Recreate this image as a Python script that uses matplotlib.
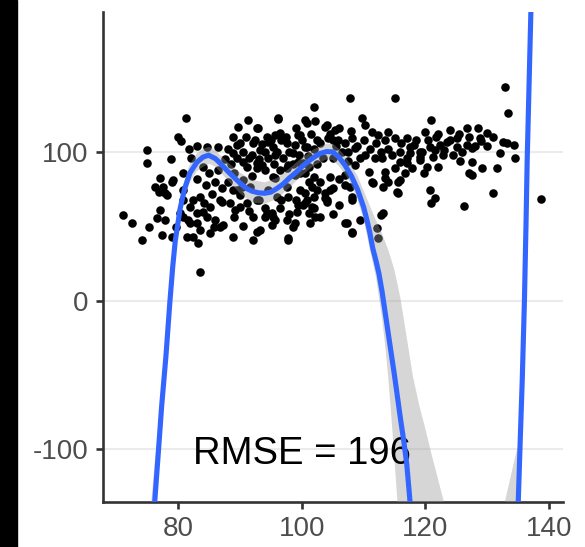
import numpy as np
import matplotlib.pyplot as plt
from matplotlib.patches import Rectangle

plt.rcParams['font.family'] = ['Liberation Sans', 'DejaVu Sans']
plt.rcParams['axes.unicode_minus'] = False

pt_x = [
    74.9, 74.9, 78.8, 81.3, 80.0, 80.4, 81.8, 84.6, 86.5, 77.0,
    79.2, 80.8, 76.2, 77.6, 78.9, 76.8, 78.1, 80.8, 71.0, 72.5,
    75.3, 74.2, 77.0, 76.5, 77.3, 78.9, 79.7, 80.3, 81.6, 83.0,
    82.4, 83.2, 83.5, 80.8, 81.9, 83.5, 84.0, 85.1, 85.9, 86.8,
    87.3, 88.9, 89.2, 90.0, 91.1, 92.1, 92.7, 92.1, 94.3, 95.1,
    95.4, 97.6, 97.8, 96.5, 99.2, 98.6, 100.2, 101.9, 102.9, 101.3,
    77.8, 82.4, 84.1, 83.0, 84.6, 81.9, 83.5, 85.1, 81.4, 80.8,
    88.4, 90.0, 86.8, 89.5, 91.6, 92.7, 77.8, 85.7, 95.1, 93.2,
    91.3, 89.7, 92.7, 88.9, 89.5, 92.4, 91.9, 92.7, 90.5, 96.2,
    101.9, 100.8, 104.0, 90.0, 88.9, 92.1, 93.2, 94.3, 95.4, 96.5,
    97.6, 98.6, 99.7, 100.8, 102.4, 105.1, 91.1, 92.7, 90.5, 95.4,
    97.6, 99.7, 101.9, 100.2, 104.6, 88.9, 90.3, 97.6, 99.7, 102.4,
    104.6, 100.8, 104.0, 107.8, 115.1, 96.1, 100.5, 102.1, 109.7, 110.2,
    95.7, 96.7, 94.6, 99.4, 98.9, 100.5, 103.8, 105.4, 104.3, 105.9,
    108.1, 108.6, 107.5, 111.3, 112.4, 114.0, 115.1, 110.2, 111.8, 112.9,
    114.6, 115.9, 108.6, 110.8, 113.5, 115.1, 107.0, 111.3, 113.5, 115.6,
    94.0, 95.7, 93.5, 97.8, 99.4, 101.1, 95.7, 98.9, 101.1, 92.9,
    132.9, 133.4, 120.9, 119.95, 121.8, 124.0, 125.1, 126.7, 128.6, 130.0,
    128.9, 117.0, 118.1, 115.9, 119.1, 120.8, 122.4, 123.5, 125.1, 126.7,
    127.5, 117.0, 119.1, 121.3, 122.9, 120.2, 116.7, 125.6, 127.5, 127.5,
    129.1, 131.6, 132.1, 133.2, 134.3, 134.5, 132.6, 138.8, 130.9, 126.3,
    120.8, 121.6, 121.0, 127.0, 111.6, 113.2, 114.0, 115.4, 115.9, 107.8,
    108.1, 107.3, 108.1, 109.4, 112.9, 112.1, 112.4, 117.5, 119.1, 117.0,
    107.0, 108.1, 115.6, 113.2, 107.0, 108.1, 97.8, 95.7, 98.9, 101.1,
    102.1, 100.5, 101.6, 103.8, 103.8, 96.7, 97.8, 99.4, 100.5, 101.6,
    94.6, 93.0, 94.0,
    86.5, 87.5, 88.0, 88.5, 89.0, 89.5, 90.5, 91.0, 91.5, 92.0,
    93.0, 93.5, 94.0, 94.5, 95.0, 95.5, 96.0, 96.5, 97.0, 97.5,
    98.0, 98.5, 99.0, 99.5, 100.0, 100.5, 101.0, 101.5, 102.0, 102.5,
    103.0, 103.5, 104.5, 105.0, 105.5, 106.0, 106.5, 107.0, 107.5, 108.0,
    109.0, 109.5, 110.0, 111.0, 112.0, 113.0, 113.5, 114.0, 116.0, 117.5,
    118.5, 119.5, 120.5, 121.5, 122.0, 123.0, 124.0, 124.5, 125.5, 126.0,
    127.0, 128.0, 129.0, 130.0, 131.0, 117.8, 119.8, 122.0, 82.0, 83.0,
    84.0, 85.0, 86.0, 87.0, 85.5, 83.0, 84.5, 88.0, 87.0, 89.0,
    90.5, 91.5, 94.0, 96.0, 98.0, 99.0, 102.0, 103.0, 105.0, 106.0,
    106.0, 105.0, 104.0,
]
pt_y = [
    101, 92.3, 95.2, 122.6, 110, 107, 102, 103.5, 103.5, 82.3,
    81, 85.6, 76.6, 76.6, 80, 73.3, 71, 74.4, 57.6, 52,
    49.7, 40.8, 61, 55.4, 44.2, 43, 49.7, 58.7, 54.2, 52,
    43, 38.6, 19.5, 67.7, 63.2, 69.9, 59.8, 63.2, 54.2, 49.7,
    50.9, 43, 61, 71, 65.5, 56.5, 46.4, 40.8, 58.7, 50.9,
    56.5, 54.2, 41.9, 62.1, 59.8, 49.7, 64.3, 69.9, 56.5, 52,
    54.2, 67.7, 65.5, 58.7, 56.5, 52, 47.5, 45.3, 43, 56.5,
    65.5, 63.2, 67.7, 74.4, 76.6, 67.7, 72.2, 49.7, 58.7, 47.5,
    121.4, 117, 115.8, 110.2, 104.6, 108, 98, 89, 93.4, 121.9,
    130.4, 119.2, 118, 105.8, 99, 105.8, 101.3, 110.2, 103.5, 112.5,
    105.8, 99, 111.4, 103.5, 108, 108, 90, 92.3, 81.1, 83.3,
    89, 85.6, 83.3, 92.3, 83.3, 74.4, 76.6, 76.6, 74.4, 74.4,
    74.4, 67.7, 67.7, 136, 136, 122.6, 121.4, 120.8, 122.6, 118,
    111.4, 108, 106.9, 111.4, 104.6, 103.5, 117, 114.7, 109.1, 108,
    109.1, 102.4, 100.1, 113.6, 111.4, 113.6, 109.1, 97.9, 95.7, 100.1,
    97.9, 93.4, 91.2, 86.7, 86.7, 89, 84.5, 80, 82.3, 80,
    100.1, 97.9, 91.2, 91.2, 93.4, 90, 82.3, 84.5, 80, 115.8,
    143.8, 125.9, 121.4, 113.6, 110.2, 114.7, 109.1, 115.8, 115.8, 112.5,
    109.1, 109.1, 104.6, 100.1, 100.1, 103.5, 104.6, 106.9, 103.5, 104.6,
    102.4, 95.7, 94.6, 96.8, 97.9, 90, 85.6, 93.9, 93, 84.5,
    89, 89, 99, 105.8, 104.6, 96.1, 106.9, 68.3, 72.2, 63.8,
    74.4, 68.8, 65.5, 85.6, 78.9, 76.6, 80, 73.3, 81.1, 76.6,
    67.7, 52, 46.4, 54.2, 57.6, 48.7, 41.9, 99, 96.8, 92.3,
    77.8, 69.9, 72.2, 58.7, 52, 45.7, 40.8, 54.2, 52, 58.7,
    56.5, 65.5, 63.2, 72.2, 68.8, 67.7, 69.9, 64.3, 72.2, 76.6,
    74.4, 67.7, 56.5,
    88, 95, 102, 92, 86, 96, 100, 110, 96, 84,
    95, 105, 88, 96, 108, 92, 100, 88, 96, 110,
    100, 92, 116, 98, 108, 86, 97, 112, 102, 92,
    106, 96, 112, 96, 104, 116, 100, 106, 94, 114,
    104, 96, 108, 102, 106, 96, 108, 102, 106, 103,
    108, 100, 108, 101, 112, 101, 108, 98, 112, 100,
    110, 104, 107, 104, 110, 89, 86, 90, 96, 104,
    90, 86, 80, 76, 72, 82, 78, 80, 66, 56,
    50, 60, 62, 70, 58, 68, 62, 80, 76, 82,
    64, 58, 66,
]

# fitted polynomial curve, main piece and the right-hand branch
fit_x = [75.3, 75.7, 76.2, 76.8, 77.3, 78.0, 78.65, 79.1, 79.5, 80.3,
         81.0, 81.9, 83.0, 84.0, 84.9, 86.0, 87.0, 88.0,
         89.0, 90.0, 91.0, 92.0, 93.0, 94.0, 95.0, 96.0, 97.0, 98.0,
         99.0, 100.0, 101.0, 102.0, 103.0, 104.0, 105.0, 106.0, 107.0, 108.0,
         109.0, 110.0, 110.5, 111.0, 111.5, 112.0, 112.5, 113.0, 113.5, 114.0,
         114.5, 115.0, 115.5, 116.0, 116.5, 117.0, 117.5, 118.0, 118.3]
fit_y = [-186, -163, -134, -100, -71, -37, 0, 23, 40, 62,
         75, 86, 93, 96.5, 97.8, 95.5, 91.5, 87,
         83, 79, 75.5, 73.5, 72.5, 72.2, 73, 75.5, 78.5, 82.5,
         86, 90, 93.5, 96.5, 99, 100.2, 100, 96.5, 91, 84,
         75, 63, 55, 46, 35, 27, 18, 6, -8, -22,
         -36, -50, -65, -80, -94, -110, -134, -160, -180]
fit3_x = [134.6, 135.06, 135.4, 135.7, 136.05, 136.3, 136.5, 136.8, 137.1, 137.3]
fit3_y = [-200, -134, -90, -53, 0, 50, 95, 145, 195, 230]

# confidence band
band_x = [75.3, 76.2, 76.8, 77.3, 78.0, 78.65, 79.5, 80.3, 81.0, 81.9,
          83.0, 84.0, 85.0, 86.0, 88.0, 90.0, 92.0, 94.0, 96.0,
          98.0, 100.0, 102.0, 104.0, 105.0, 106.0, 107.0, 108.0, 109.0, 110.0,
          111.0, 112.0, 113.0, 113.5, 114.0, 114.5, 115.0, 115.5, 116.0, 117.0, 118.0,
          119.0, 120.0, 121.0, 122.0, 123.0, 124.0]
band_lo = [-200, -144, -108, -78, -43, -6, 34, 56, 69, 80,
           87, 90, 92, 90, 81, 72, 66, 65, 68.5,
           76, 84, 91, 95, 94.5, 90.5, 85, 78, 68, 55,
           35, 16, -12, -30, -52, -78, -106, -136, -168, -250, -300,
           -350, -400, -450, -500, -550, -600]
band_hi = [-150, -108, -84, -60, -29, 7, 47, 69, 81, 92,
           99, 102, 103.5, 101, 93, 86, 81, 79.5, 82.5,
           89, 96, 102, 105.5, 105.5, 102, 97, 91, 84, 74,
           64, 54, 45, 39.5, 34, 27.5, 20.5, 11, 1, -25, -51,
           -70, -86, -103, -119, -135, -152]
band3_x = [132.5, 133.0, 134.0, 134.6, 135.06, 135.4, 135.7, 136.05, 136.3, 136.5, 136.8, 137.1, 137.3]
band3_lo = [-400, -380, -300, -206, -140, -96, -59, -6, 44, 89, 139, 189, 224]
band3_hi = [-143, -133, -115, -104, -97, -85, -47, 6, 56, 101, 151, 201, 236]

x_ticks = [80, 100, 120, 140]
y_ticks = [-100, 0, 100]
label = "RMSE = 196"

fig = plt.figure(figsize=(5.85, 5.47), dpi=100)
fig.patches.append(Rectangle((0, 0), 17 / 585, 1, transform=fig.transFigure,
                             color='black', zorder=0))
ax = fig.add_axes([0.1756, 0.0828, 0.7863, 0.8952])

ax.scatter(pt_x, pt_y, s=38, c='black', linewidths=0, zorder=2)
ax.fill_between(band_x, band_lo, band_hi, color='#999999', alpha=0.4, lw=0, zorder=3)
ax.fill_between(band3_x, band3_lo, band3_hi, color='#999999', alpha=0.4, lw=0, zorder=3)
ax.text(100, -103, label, fontsize=27.5, ha='center', va='center', color='black', zorder=4)
ax.plot(fit_x, fit_y, color='#3366FF', lw=3.7, zorder=5)
ax.plot(fit3_x, fit3_y, color='#3366FF', lw=3.7, zorder=5)

ax.set_xlim(67.76, 142.25)
ax.set_ylim(-135.1, 194)
ax.set_xticks(x_ticks)
ax.set_yticks(y_ticks)
ax.yaxis.grid(True, color='#EBEBEB', lw=1.5)
ax.set_axisbelow(True)
for s in ['top', 'right']:
    ax.spines[s].set_visible(False)
for s in ['left', 'bottom']:
    ax.spines[s].set_color('#333333')
    ax.spines[s].set_linewidth(1.9)
ax.tick_params(colors='#333333', labelcolor='#4D4D4D', labelsize=20,
               length=5, width=1.9, pad=5)

fig.savefig('out.png', dpi=100)
